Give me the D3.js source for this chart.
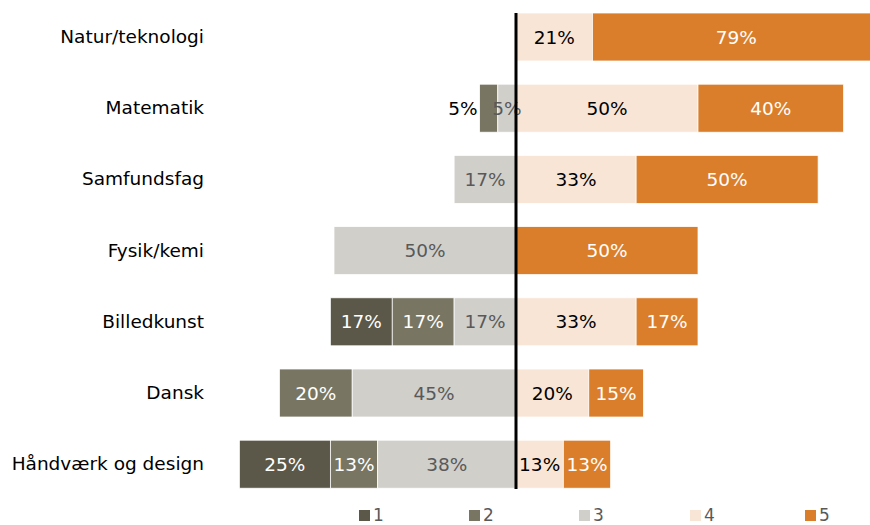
<!DOCTYPE html>
<html>
<head>
<meta charset="utf-8">
<script src="https://cdn.jsdelivr.net/npm/d3@7"></script>
<style>
  html, body { margin: 0; padding: 0; background: #fff; }
  svg { display: block; font-family: Verdana, "DejaVu Sans", sans-serif; }
</style>
</head>
<body>
<svg id="chart" width="870" height="525"></svg>
<script>
// Subjects, top to bottom
const categories = ["Natur/teknologi", "Matematik", "Samfundsfag", "Fysik/kemi", "Billedkunst", "Dansk", "Håndværk og design"];
// Share of answers (%) per rating level
const level1 = [0, 0, 0, 0, 17, 0, 25];
const level2 = [0, 5, 0, 0, 17, 20, 13];
const level3 = [0, 5, 17, 50, 17, 45, 38];
const level4 = [21, 50, 33, 0, 33, 20, 13];
const level5 = [79, 40, 50, 50, 17, 15, 13];
const legendLabels = ["1", "2", "3", "4", "5"];

const colors = ["#5b5849", "#787662", "#d0cfca", "#f9e5d6", "#db7e2b"];
const labelColors = ["#ffffff", "#ffffff", "#595959", "#000000", "#ffffff"];

const svg = d3.select("#chart");

const x = d3.scaleLinear().domain([-100, 100]).range([152, 880]);
const y = d3.scaleBand().domain(categories).range([13, 488.2]).paddingInner(0.326).paddingOuter(0);

// Levels 1-3 stack leftwards from the centre, 4-5 rightwards
const series = [level1, level2, level3, level4, level5];
const segs = [];
categories.forEach((cat, i) => {
  const negTotal = level1[i] + level2[i] + level3[i];
  let left = -negTotal;
  for (let k = 0; k < 3; k++) {
    const v = series[k][i];
    if (v > 0) segs.push({ cat, k, v, x0: left, x1: left + v, outer: left === -negTotal });
    left += v;
  }
  let right = 0;
  for (let k = 3; k < 5; k++) {
    const v = series[k][i];
    if (v > 0) segs.push({ cat, k, v, x0: right, x1: right + v, outer: false });
    right += v;
  }
});

svg.append("g").selectAll("rect").data(segs).join("rect")
  .attr("x", d => x(d.x0))
  .attr("y", d => y(d.cat))
  .attr("width", d => x(d.x1) - x(d.x0))
  .attr("height", y.bandwidth())
  .attr("fill", d => colors[d.k])
  .attr("stroke", "#ffffff")
  .attr("stroke-width", 0.75);

// Value labels; an outermost sliver too narrow for its text gets its label outside the bar
const outside = d => d.outer && (x(d.x1) - x(d.x0)) < 25;
svg.append("g").selectAll("text").data(segs).join("text")
  .attr("x", d => outside(d) ? x(d.x0) - 2 : (x(d.x0) + x(d.x1)) / 2)
  .attr("y", d => y(d.cat) + y.bandwidth() / 2)
  .attr("dy", "0.36em")
  .attr("text-anchor", d => outside(d) ? "end" : "middle")
  .attr("fill", d => outside(d) ? "#000000" : labelColors[d.k])
  .style("font-size", "18.5px")
  .text(d => d.v + "%");

// Category axis
const yAxis = svg.append("g")
  .attr("transform", "translate(204,0)")
  .call(d3.axisLeft(y).tickSize(0).tickPadding(0));
yAxis.select(".domain").remove();
yAxis.selectAll("text")
  .attr("fill", "#000")
  .style("font-size", "18.5px")
  .style("font-family", "Verdana, 'DejaVu Sans', sans-serif");

// Centre line
svg.append("line")
  .attr("x1", x(0)).attr("x2", x(0))
  .attr("y1", 13).attr("y2", 489)
  .attr("stroke", "#000").attr("stroke-width", 3);

// Legend
const legendX = [359, 469, 579, 690, 805];
const lg = svg.append("g").selectAll("g").data(legendLabels).join("g")
  .attr("transform", (d, i) => `translate(${legendX[i]},510)`);
lg.append("rect").attr("width", 11).attr("height", 11).attr("fill", (d, i) => colors[i]);
lg.append("text").attr("x", 14).attr("y", 10.5)
  .attr("fill", "#595959").style("font-size", "17px").text(d => d);
</script>
</body>
</html>
